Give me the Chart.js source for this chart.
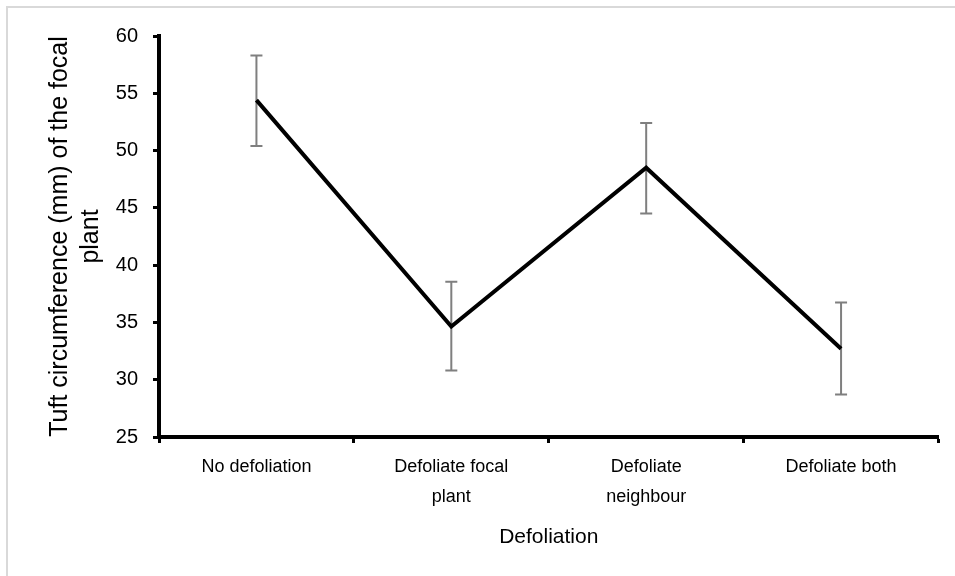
<!DOCTYPE html>
<html>
<head>
<meta charset="utf-8">
<script src="https://cdn.jsdelivr.net/npm/chart.js@4/dist/chart.umd.min.js"></script>
<style>
  html, body { margin: 0; padding: 0; background: #fff; overflow: hidden; }
  #wrap { position: relative; width: 955px; height: 576px; }
  #frame { position: absolute; left: 6px; top: 6px; width: 1000px; height: 1000px;
           border: 2px solid #d9d9d9; box-sizing: border-box; }
  #chart { position: absolute; left: 0; top: 0; }
</style>
</head>
<body>
<div id="wrap">
  <div id="frame"></div>
  <canvas id="chart" width="955" height="576"></canvas>
</div>
<script>
// ---- Datos ----
const categories = [
  ['No defoliation'],
  ['Defoliate focal', 'plant'],
  ['Defoliate', 'neighbour'],
  ['Defoliate both']
];
const means = [54.4, 34.65, 48.5, 32.7];
const errUpper = [58.3, 38.55, 52.4, 36.75];
const errLower = [50.4, 30.8, 44.5, 28.7];
const yTicks = [25, 30, 35, 40, 45, 50, 55, 60];

// ---- Barras de error ----
const errorBars = {
  id: 'errorBars',
  beforeDatasetsDraw(chart) {
    const { ctx, scales: { x, y } } = chart;
    ctx.save();
    ctx.strokeStyle = '#7f7f7f';
    ctx.lineWidth = 2;
    means.forEach((m, i) => {
      const px = x.getPixelForValue(i);
      const top = y.getPixelForValue(errUpper[i]);
      const bot = y.getPixelForValue(errLower[i]);
      ctx.beginPath();
      ctx.moveTo(px, top); ctx.lineTo(px, bot);
      ctx.moveTo(px - 6, top); ctx.lineTo(px + 6, top);
      ctx.moveTo(px - 6, bot); ctx.lineTo(px + 6, bot);
      ctx.stroke();
    });
    ctx.restore();
  }
};

const FONT = "'Liberation Sans', Arial, sans-serif";

const ctx = document.getElementById('chart').getContext('2d');
new Chart(ctx, {
  type: 'line',
  data: {
    labels: categories,
    datasets: [{
      data: means,
      borderColor: '#000',
      borderWidth: 4,
      pointRadius: 0,
      tension: 0,
      fill: false
    }]
  },
  options: {
    responsive: false,
    animation: false,
    layout: { padding: { left: 0, top: 36, right: 16.5, bottom: 0 } },
    plugins: { legend: { display: false }, tooltip: { enabled: false } },
    scales: {
      x: {
        offset: true,
        afterFit: (s) => { s.height = 139; },
        grid: { drawOnChartArea: false, offset: true, tickLength: 6, tickWidth: 3, tickColor: '#000' },
        border: { color: '#000', width: 4 },
        ticks: {
          color: '#000', padding: 9, maxRotation: 0, autoSkip: false,
          font: { family: FONT, size: 18, lineHeight: '30px' }
        },
        title: {
          display: true, text: 'Defoliation', color: '#000',
          font: { family: FONT, size: 21, lineHeight: 1.2 },
          padding: { top: 0, bottom: 26 }
        }
      },
      y: {
        min: 25, max: 60,
        afterFit: (s) => { s.width = 159; },
        afterBuildTicks: (s) => { s.ticks = yTicks.map(v => ({ value: v })); },
        grid: { drawOnChartArea: false, tickLength: 6, tickWidth: 3, tickColor: '#000' },
        border: { color: '#000', width: 4 },
        ticks: {
          color: '#000', padding: 15,
          font: { family: FONT, size: 20 }
        },
        title: {
          display: true, text: ['Tuft circumference (mm) of the focal', 'plant'], color: '#000',
          font: { family: FONT, size: 25, lineHeight: '31px' },
          padding: { top: 45, bottom: 0 }
        }
      }
    }
  },
  plugins: [errorBars]
});
</script>
</body>
</html>
